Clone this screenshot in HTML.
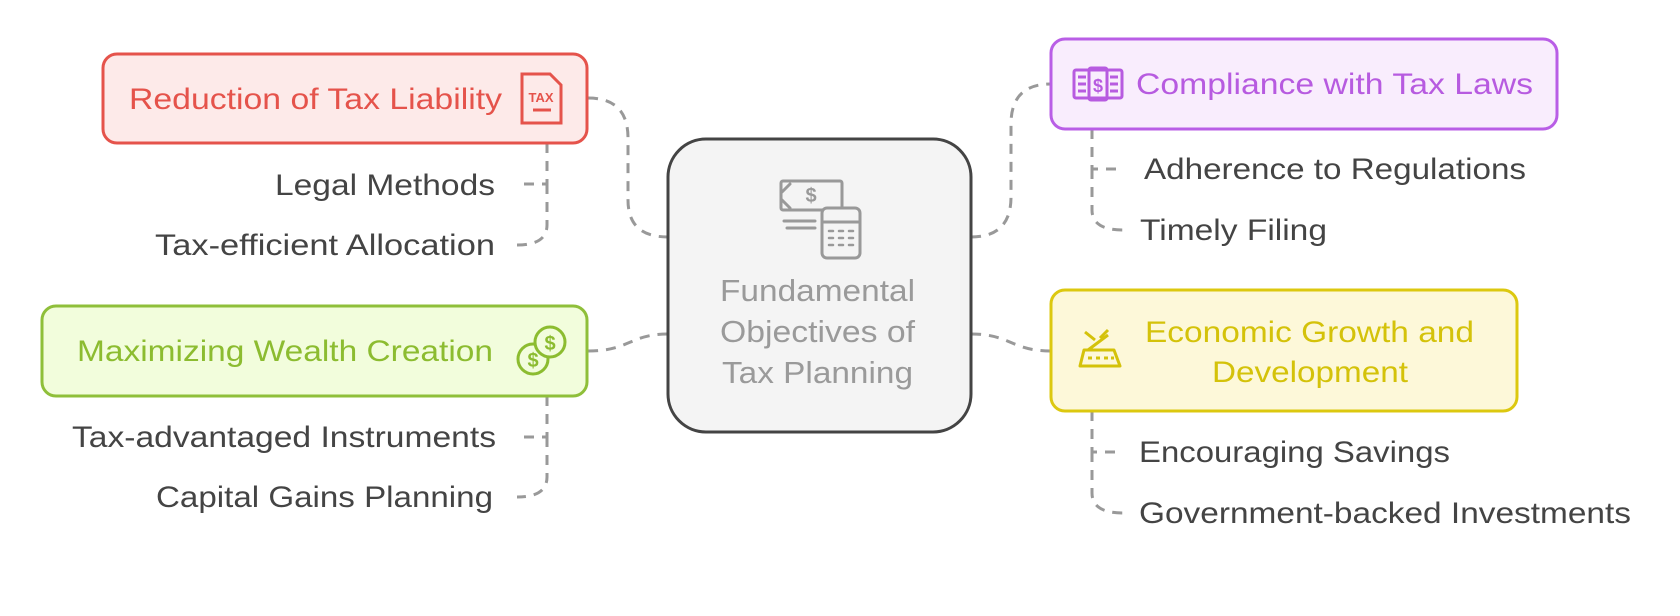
<!DOCTYPE html>
<html><head><meta charset="utf-8"><style>
html,body{margin:0;padding:0;background:#fff;}
svg{display:block;}
text{font-family:"Liberation Sans",sans-serif;}
</style></head><body>
<svg width="1680" height="616" viewBox="0 0 1680 616" xmlns="http://www.w3.org/2000/svg">
<g fill="none" stroke="#999" stroke-width="3" stroke-dasharray="10,8">
  <path d="M588 98 Q628 98 628 138 L628 200 Q628 237 668 237"/>
  <path d="M547 143 L547 184 L518 184"/>
  <path d="M547 184 L547 225 Q547 245 517 245"/>
  <path d="M588 351 C630 351 630 334 668 334"/>
  <path d="M547 396 L547 437 L518 437"/>
  <path d="M547 437 L547 477 Q547 497 517 497"/>
  <path d="M971 237 Q1011 237 1011 197 L1011 124 Q1011 84 1051 84"/>
  <path d="M1092 129 L1092 169 L1123 169"/>
  <path d="M1092 169 L1092 210 Q1092 230 1123 230"/>
  <path d="M971 334 C1011 334 1011 351 1051 351"/>
  <path d="M1092 411 L1092 452 L1123 452"/>
  <path d="M1092 452 L1092 493 Q1092 513 1123 513"/>
</g>

<rect x="668" y="139" width="303" height="293" rx="38" fill="#f4f4f4" stroke="#444" stroke-width="3"/>
<g fill="none" stroke="#999" stroke-width="3" stroke-linecap="round">
  <rect x="781" y="181" width="61" height="29" rx="2"/>
  <path d="M782 192 L790 184 M782 200 L790 208"/>
  <line x1="784" y1="221" x2="815" y2="221"/>
  <line x1="787" y1="228" x2="815" y2="228"/>
  <rect x="822" y="208" width="38" height="50" rx="5" fill="#f4f4f4"/>
  <line x1="822" y1="222" x2="860" y2="222"/>
  <path d="M829 231h4M839 231h4M849 231h4M829 238h4M839 238h4M849 238h4M829 245h4M839 245h4M849 245h4" stroke-width="2.5"/>
</g>
<text x="811" y="202" font-size="20" fill="#999" text-anchor="middle" font-weight="bold">$</text>
<g font-size="31" fill="#9a9a9a" lengthAdjust="spacingAndGlyphs">
  <text x="720" y="301" textLength="195" lengthAdjust="spacingAndGlyphs">Fundamental</text>
  <text x="720" y="342" textLength="195" lengthAdjust="spacingAndGlyphs">Objectives of</text>
  <text x="722" y="383" textLength="191" lengthAdjust="spacingAndGlyphs">Tax Planning</text>
</g>

<rect x="103" y="54" width="484" height="89" rx="14" fill="#fdeae9" stroke="#e5534b" stroke-width="3"/>
<text x="129" y="109" font-size="30" fill="#e5534b" textLength="373" lengthAdjust="spacingAndGlyphs">Reduction of Tax Liability</text>
<g fill="none" stroke="#e5534b" stroke-width="3">
  <path d="M522 74 L550 74 L561 85 L561 123 L522 123 Z"/>
  <line x1="533" y1="110" x2="551" y2="110"/>
</g>
<text x="541" y="102" font-size="13" font-weight="bold" fill="#e5534b" text-anchor="middle">TAX</text>
<g font-size="30" fill="#444">
  <text x="275" y="195" textLength="220" lengthAdjust="spacingAndGlyphs">Legal Methods</text>
  <text x="155" y="255" textLength="340" lengthAdjust="spacingAndGlyphs">Tax-efficient Allocation</text>
</g>

<rect x="42" y="306" width="545" height="90" rx="14" fill="#f2fddc" stroke="#8fbf3a" stroke-width="3"/>
<text x="77" y="361" font-size="30" fill="#8cbc30" textLength="416" lengthAdjust="spacingAndGlyphs">Maximizing Wealth Creation</text>
<g fill="none" stroke="#8cbc30" stroke-width="3">
  <circle cx="533" cy="359" r="15" fill="#f2fddc"/>
  <circle cx="550" cy="342" r="15" fill="#f2fddc"/>
</g>
<text x="533" y="367" font-size="20" font-weight="bold" fill="#8cbc30" text-anchor="middle">$</text>
<text x="550" y="350" font-size="20" font-weight="bold" fill="#8cbc30" text-anchor="middle">$</text>
<g font-size="30" fill="#444">
  <text x="72" y="447" textLength="424" lengthAdjust="spacingAndGlyphs">Tax-advantaged Instruments</text>
  <text x="156" y="507" textLength="337" lengthAdjust="spacingAndGlyphs">Capital Gains Planning</text>
</g>

<rect x="1051" y="39" width="506" height="90" rx="14" fill="#f9edfd" stroke="#b95ee6" stroke-width="3"/>
<text x="1136" y="94" font-size="30" fill="#b75be0" textLength="397" lengthAdjust="spacingAndGlyphs">Compliance with Tax Laws</text>
<g fill="none" stroke="#b75be0" stroke-width="3">
  <rect x="1074" y="70" width="48" height="28" rx="2"/>
  <rect x="1089" y="68" width="18" height="32" rx="2"/>
  <path d="M1078 77h8M1078 84h8M1078 91h8M1110 77h8M1110 84h8M1110 91h8"/>
</g>
<text x="1098" y="92" font-size="18" font-weight="bold" fill="#b75be0" text-anchor="middle">$</text>
<g font-size="30" fill="#444">
  <text x="1144" y="179" textLength="382" lengthAdjust="spacingAndGlyphs">Adherence to Regulations</text>
  <text x="1140" y="240" textLength="187" lengthAdjust="spacingAndGlyphs">Timely Filing</text>
</g>

<rect x="1051" y="290" width="466" height="121" rx="14" fill="#fdf8d9" stroke="#dcc80f" stroke-width="3"/>
<g font-size="30" fill="#d4c20a">
  <text x="1145" y="342" textLength="329" lengthAdjust="spacingAndGlyphs">Economic Growth and</text>
  <text x="1212" y="382" textLength="196" lengthAdjust="spacingAndGlyphs">Development</text>
</g>
<g fill="none" stroke="#d4c20a" stroke-width="3" stroke-linejoin="round">
  <path d="M1080 366 L1084 350 L1114 350 L1120 366 Z"/>
  <path d="M1088 358h4M1096 358h4M1104 358h4M1111 358h3"/>
  <path d="M1088 350 L1108 335 M1095 340 L1085 332 M1100 338 L1108 330"/>
</g>
<g font-size="30" fill="#444">
  <text x="1139" y="462" textLength="311" lengthAdjust="spacingAndGlyphs">Encouraging Savings</text>
  <text x="1139" y="523" textLength="492" lengthAdjust="spacingAndGlyphs">Government-backed Investments</text>
</g>
</svg>
</body></html>
